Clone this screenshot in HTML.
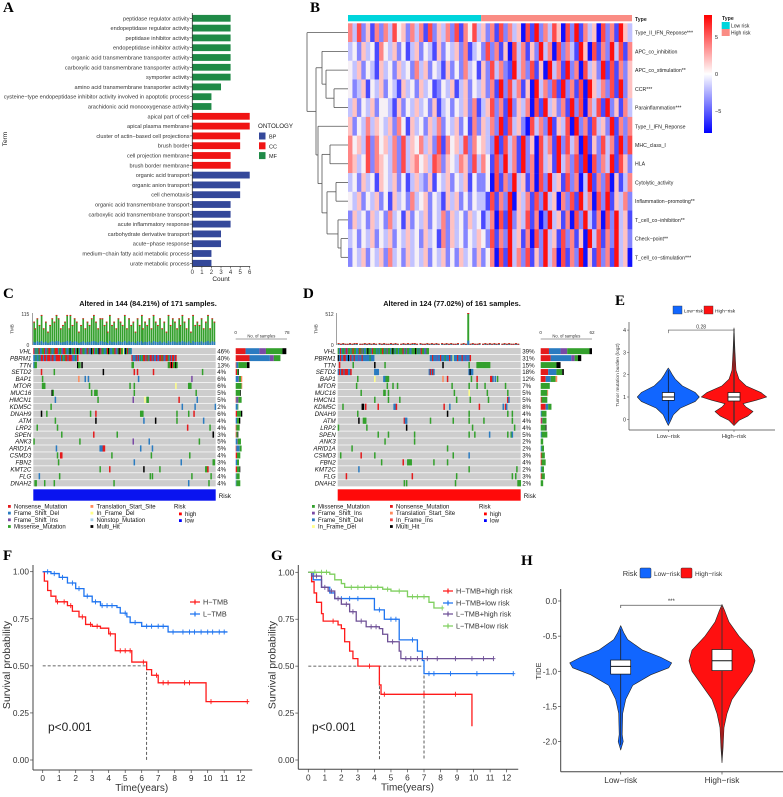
<!DOCTYPE html>
<html><head><meta charset="utf-8"><style>
html,body{margin:0;padding:0;background:#fff}
svg{display:block;font-family:"Liberation Sans",sans-serif}
.pl{font-family:"Liberation Serif",serif;font-weight:bold;font-size:15px}
</style></head><body>
<svg id="fig" width="783" height="797" viewBox="0 0 783 797" xmlns="http://www.w3.org/2000/svg">
<rect width="783" height="797" fill="#fff"/>
<defs><linearGradient id="cbar" x1="0" y1="0" x2="0" y2="1"><stop offset="0" stop-color="#ff0000"/><stop offset="0.5" stop-color="#ffffff"/><stop offset="1" stop-color="#0000ff"/></linearGradient></defs>
<text class="pl" x="3" y="12">A</text>
<text class="pl" x="310" y="12">B</text>
<text class="pl" x="3" y="298">C</text>
<text class="pl" x="303" y="298">D</text>
<text class="pl" x="615" y="305">E</text>
<text class="pl" x="3" y="560">F</text>
<text class="pl" x="271" y="560">G</text>
<text class="pl" x="521" y="565">H</text>
</svg>
<script>
// ===== Panel A data =====
const goTerms=["peptidase regulator activity","endopeptidase regulator activity","peptidase inhibitor activity","endopeptidase inhibitor activity","organic acid transmembrane transporter activity","carboxylic acid transmembrane transporter activity","symporter activity","amino acid transmembrane transporter activity","cysteine\u2212type endopeptidase inhibitor activity involved in apoptotic process","arachidonic acid monooxygenase activity","apical part of cell","apical plasma membrane","cluster of actin\u2212based cell projections","brush border","cell projection membrane","brush border membrane","organic acid transport","organic anion transport","cell chemotaxis","organic acid transmembrane transport","carboxylic acid transmembrane transport","acute inflammatory response","carbohydrate derivative transport","acute\u2212phase response","medium\u2212chain fatty acid metabolic process","urate metabolic process"];
const goCounts=[4,4,4,4,4,4,4,3,2,2,6,6,5,5,4,4,6,5,5,4,4,4,3,3,2,2];
const goOnt=["MF","MF","MF","MF","MF","MF","MF","MF","MF","MF","CC","CC","CC","CC","CC","CC","BP","BP","BP","BP","BP","BP","BP","BP","BP","BP"];
const goTicks=[0,1,2,3,4,5,6];
// ===== Panel B data =====
const hmRows=["Type_II_IFN_Reponse***","APC_co_inhibition","APC_co_stimulation**","CCR***","Parainflammation***","Type_I_IFN_Reponse","MHC_class_I","HLA","Cytolytic_activity","Inflammation\u2212promoting**","T_cell_co\u2212inhibition**","Check\u2212point**","T_cell_co\u2212stimulation***"];
const hmData=[
"6372516263745263617253627164735261726350718263750728163507261853",
"3425341643524135243152435261342726150736152836072631850716283716",
"4352431534253426352431524263415273621836271508361826073528171625",
"4235143524315342534124351352435261827361508362718261708536271825",
"3524352443152435342513424352613572618253607183526182706371825163",
"5243635435264153425362435241625362817352073628153708261735281626",
"6453726453627354635271645372645328173618250736182736081527361827",
"6534726543627356453762543652736417283618260735183627180726381752",
"3425341543524135325143524351422407162835160728351726038162705136",
"4352435241534263452431535242433171628053617283506271836072815362",
"2534253426341524352436253425341360718253716028351607283160728351",
"3424352435243534253416253424354271628351607283517261508371628352",
"2435243526342534352435242534252460718362715283607162805172618350"];
const hmLowCount=30;
const hmScaleTicks=[5,0,-5];
const dendro=[307,0,[316,[322,1,[326,2,[334,3,4]]],[318,5,[322,[330,6,7],[327,[336,8,9],[338,10,[341,11,12]]]]]]];
// ===== Panel C / D data =====
const genes=["VHL","PBRM1","TTN","SETD2","BAP1","MTOR","MUC16","HMCN1","KDM5C","DNAH9","ATM","LRP2","SPEN","ANK3","ARID1A","CSMD3","FBN2","KMT2C","FLG","DNAH2"];
const pctC=["46%","40%","13%","4%","6%","6%","5%","5%","2%","6%","4%","4%","3%","5%","5%","4%","3%","4%","4%","4%"];
const pctD=["39%","31%","15%","18%","12%","7%","5%","5%","8%","4%","4%","4%","5%","2%","2%","3%","4%","2%","3%","2%"];
const runsC={
VHL:[[0,"NDMDMNDDMMNDIMNNMDDMNNNDMMDINNMDDMHDMMNDMHMDNIMMDDNMIDHMNDMMDHNIMMDDMNHMDDMMNIDMHNMMFDHMNDMD"]],
PBRM1:[[0,"DDMDDMDNNDNNDNNNDNNDDNNNNDNMDMNNDNNNIDDMDN"],[92,"NDDDNDNDMDMNNDNMDNNDNDDNIDNNMNDDNNMDNDNNDN"]]};
const sparseC={
TTN:"0D 1M 2M 41H 42M 43M 45H 92M 93M 126M 127M 128N 129H 130N 131M 132M 133H 134M",
SETD2:"7N 19M 65H 94N 97N 112N 158M",
BAP1:"8M 42T 48D 51D 98D 148I",
MTOR:"8M 9M 10M 52M 90M 94M 133F 145M 146M 147M",
MUC16:"17H 18M 54M 57M 58M 59M 94M 152M",
HMCN1:"20D 60M 93I 104F 106M 107M 136N 153D",
KDM5C:"16M 139D 151D 170D",
DNAH9:"7H 12M 53M 58N 100M 101M 102M 134M 145M 150N",
ATM:"20M 58H 103D 114H 134M 159D",
LRP2:"3M 22M 144N 165M",
SPEN:"26M 56N 78M 168H",
ANK3:"0M 43M 93I 108D 155M",
ARID1A:"21D 62D 63D 64D 65N 66N 100D 111D",
CSMD3:"22M 25N 26N 73M 110M 146M",
FBN2:"23M 94D 138D 168M 169M",
KMT2C:"62M 71N 103H 118M 161M 162M 163N",
FLG:"5D 24M 109M 111M 148M 166M",
DNAH2:"1M 2M 10M 19M 75M 145D 164M"};
const runsD={
VHL:[[0,"MDNDMMDNIMMDMNMMDDMNMIMDDMHMMDNMMMDMDMMNMDMIMMDMHMDMMDMMMNDMIMMDDMMMHMDMDNMMDIMM"]],
PBRM1:[[0,"HDNDDNNDDHDNDDNDDDIDDNDDDDDDMDDD"],[81,"DDNDDDIDDNDDDMDDDNDDFDDDNDDDNDDIDDDN"]]};
const sparseD={
TTN:"1N 13M 32H 41M 92H 115M 122M 123M 124M 125M 126M 127M 128M 129M 130M 131M 132M 133M",
SETD2:"0D 1N 2D 3N 4N 5D 6N 7N 8N 9D 10D 11N 32D 33D 34D 35D 80D 81N 82D 83N 84D 115D 116H 117D 118D",
BAP1:"17M 32F 40D 41D 42M 43M 44M 92T 96N 117M 122N 134N 135N 136D 138D 140M",
MTOR:"16M 43M 48M 52M 100M 115M 122M 129M 147M",
MUC16:"20M 40M 41M 44M 102M 115F 131M 149M",
HMCN1:"32M 44M 54M 104M 116M 132M 149N 150D",
KDM5C:"4M 21H 22H 24N 35N 49D 50D 51N 93N 98D 124N 145D 147N 148D",
DNAH9:"17M 96H 115M 149M 153M",
ATM:"18H 22M 23M 24M 58N 59D 60D 81M 101M 115M 128M 153M",
LRP2:"0M 25M 60H 118M 155M",
SPEN:"35M 44M 67M 115M 120M 133D 149M 152M 153D",
ANK3:"41M 67M",
ARID1A:"12M 96M",
CSMD3:"2M 20N 32M 101M 115D",
FBN2:"38M 57N 61M 62M 63M 64M 84M 96M",
KMT2C:"18D 115M 157M",
FLG:"7N 65N 104M 153M 156M",
DNAH2:"58M 60M 103M 158M 159M 160M"};
// side counts per gene: [N, D, I, M, H, T]
const sideC=[[15,21,10,25,6,0],[21,31,6,10,0,0],[1,3,0,13,4,0],[2,0,0,2,1,0],[0,4,1,3,0,2],[0,0,0,9,0,1],[0,0,0,7,1,0],[1,1,2,5,0,0],[0,3,0,1,0,0],[2,0,0,6,2,0],[0,2,0,3,2,0],[1,0,0,5,0,0],[1,0,0,2,1,0],[0,2,1,5,0,0],[1,5,0,3,0,0],[2,0,0,5,0,0],[0,2,0,3,0,0],[2,0,0,4,1,0],[0,1,0,5,0,0],[0,1,0,6,0,0]];
const sideD=[[10,14,8,27,3,0],[12,25,4,4,4,0],[0,0,0,19,5,0],[9,10,0,7,2,0],[6,6,0,6,0,2],[0,0,0,11,0,0],[0,0,0,8,0,1],[1,0,0,7,0,0],[6,3,0,4,0,0],[0,1,0,6,0,0],[1,0,1,5,0,0],[0,0,0,6,1,0],[0,1,0,7,0,0],[0,0,0,3,0,0],[0,1,0,3,0,0],[1,0,0,4,0,0],[1,0,0,5,0,0],[0,1,0,3,0,0],[1,0,0,4,0,0],[0,0,0,3,0,0]];
const tmbC="7586957468798567959687468576897588674967587695867486957685976857496875869758496768579587";
const tmbD="3232232332232323232322323223232332322323232323232232323232232323232323232232";
const tmbDSpikeCol=115;
const tmbDSpikeVal=512;
// ===== Panel E data =====
const eLowV=[-0.28,-0.1,0.2,0.5,0.8,1.0,1.2,1.5,1.8,2.0,2.2,2.3];
const eLowW=[0,2,5,12,27,31,27,14,7,4,1.5,0];
const eHighV=[-0.28,-0.05,0.15,0.35,0.55,0.7,0.85,1.0,1.2,1.5,1.8,2.2,3.0,4.1];
const eHighW=[0,5,14,19,12,9,22,32.7,27,12,5,2,1,0];
const eBoxLow=[0.85,1.0,1.2];
const eBoxHigh=[0.82,1.0,1.2];
const eTicks=[0,1,2,3,4];
// ===== Panel F data =====
const fHT=[0.1,0.3,0.5,0.8,1.5,1.8,2.2,2.6,3.0,3.5,4.0,4.4,5.4,6.3,6.6,7.0,9.9];
const fHS=[0.95,0.90,0.87,0.84,0.82,0.79,0.76,0.72,0.71,0.70,0.67,0.58,0.52,0.48,0.45,0.41,0.31];
const fHEnd=12.4;
const fHCens=[0.9,1.3,1.7,2.4,2.9,3.3,4.1,4.7,5.0,5.3,6.1,6.9,7.3,7.6,8.6,8.9,10.2,12.4];
const fLT=[0.5,1.0,1.5,2.0,2.5,3.0,3.5,4.5,4.7,5.1,5.3,6.0,7.6];
const fLS=[0.99,0.97,0.94,0.91,0.87,0.84,0.82,0.81,0.78,0.76,0.73,0.71,0.68];
const fLEnd=11.2;
const fLCens=[0.3,0.7,1.2,1.8,2.2,2.7,3.2,3.6,3.9,4.2,5.0,5.6,6.3,6.6,7.0,7.3,7.9,8.5,8.9,9.2,9.6,10.0,10.3,10.7,11.0];
// ===== Panel G data =====
const gHhT=[0.2,0.35,0.5,0.8,0.9,1.8,2.0,2.2,2.5,2.7,3.0,4.3,4.4,9.9];
const gHhS=[0.95,0.89,0.84,0.78,0.74,0.72,0.70,0.63,0.58,0.54,0.50,0.40,0.35,0.18];
const gHhEnd=9.9;
const gHhCens=[1.5,3.7,4.6,7.0,8.9];
const gHlT=[0.3,0.8,1.3,1.6,4.0,4.6,5.5,6.6,6.9,7.0];
const gHlS=[0.96,0.92,0.89,0.86,0.80,0.75,0.64,0.58,0.53,0.46];
const gHlEnd=12.4;
const gHlCens=[2.0,2.5,3.0,4.3,5.0,5.3,6.3,7.3,7.6,8.6,10.2,12.4];
const gLhT=[0.2,0.8,1.2,1.6,2.0,2.5,2.9,3.5,4.3,4.5,4.8,5.5,5.6];
const gLhS=[0.98,0.92,0.90,0.86,0.83,0.79,0.74,0.71,0.70,0.67,0.63,0.58,0.54];
const gLhEnd=11.2;
const gLhCens=[0.5,1.0,1.4,1.8,2.3,2.7,3.2,3.8,4.1,5.1,5.9,6.2,6.6,7.2,7.8,8.9,9.9,10.6,11.2];
const gLlT=[1.3,1.6,2.0,2.2,4.5,5.0,6.0,7.3,7.6];
const gLlS=[0.99,0.96,0.94,0.92,0.91,0.90,0.87,0.84,0.81];
const gLlEnd=8.1;
const gLlCens=[0.4,0.8,1.1,2.6,3.0,3.4,3.8,4.2,4.8,5.5,6.3,6.6,7.0,8.1];
// ===== Panel H data =====
const hLowV=[-2.12,-2.0,-1.9,-1.6,-1.4,-1.2,-1.05,-0.95,-0.88,-0.8,-0.7,-0.55,-0.45,-0.35];
const hLowW=[0,2.5,1.5,2,5,12,30,48,51,40,22,7,3,0];
const hHighV=[-2.3,-2.1,-1.8,-1.6,-1.4,-1.2,-1.0,-0.85,-0.7,-0.5,-0.3,-0.15,-0.05];
const hHighW=[0,1,2,5,10,20,30,33,30,17,7,3,0];
const hBoxLow=[-1.04,-0.93,-0.84];
const hBoxHigh=[-0.99,-0.85,-0.69];
const hTicks=[0,-0.5,-1,-1.5,-2];
const hTickLabels=["0.0","-0.5","-1.0","-1.5","-2.0"];

const NS="http://www.w3.org/2000/svg";
const svg=document.getElementById("fig");
function mk(tag,attrs,parent){const e=document.createElementNS(NS,tag);for(const k in attrs)e.setAttribute(k,attrs[k]);(parent||svg).appendChild(e);return e;}
function tx(x,y,s,size,attrs){const e=mk("text",Object.assign({x:x,y:y,"font-size":size},attrs||{}));e.textContent=s;return e;}
function ln(x1,y1,x2,y2,st,w,extra){return mk("line",Object.assign({x1:x1,y1:y1,x2:x2,y2:y2,stroke:st||"#000","stroke-width":w||0.8},extra||{}));}

// ===== Panel A =====
(function(){
const ontColor={MF:"#1f8a47",CC:"#f01414",BP:"#34489a"};
const xA=v=>192.3+v*9.57, yA=i=>18.3+i*9.8;
goTerms.forEach((t,i)=>{
  const r=mk("rect",{x:xA(0),y:yA(i)-3.4,width:xA(goCounts[i])-xA(0),height:6.8,fill:ontColor[goOnt[i]]});
  
  
  const l=tx(189.5,yA(i)+2,t,5.6,{"text-anchor":"end",fill:"#333"});
  
  
  const tk=ln(190,yA(i),192.3,yA(i),"#333",0.6);
  
  
});
const ya=ln(192.3,13,192.3,266.5,"#333",0.8);


const xa=ln(192.3,266.5,xA(6)+0.5,266.5,"#333",0.8);


goTicks.forEach(v=>{
  const t=ln(xA(v),266.5,xA(v),268.5,"#333",0.6);
  
  
  const l=tx(xA(v),274,String(v),6,{"text-anchor":"middle",fill:"#333"});
  
  
});
const ct=tx(221,281,"Count",6.5,{"text-anchor":"middle",fill:"#222"});


const tm=tx(7,139,"Term",6.5,{"text-anchor":"middle",fill:"#222",transform:"rotate(-90 7 139)"});


const lt=tx(258,128,"ONTOLOGY",6.2,{fill:"#222"});


["BP","CC","MF"].forEach((o,i)=>{
  const s=mk("rect",{x:259,y:132.5+i*9.8,width:6.5,height:7,fill:ontColor[o]});
  
  
  const l=tx(269,138.5+i*9.8,o,5.5,{fill:"#222"});
  
  
});
})();

// ===== Panel B =====
(function(){
const pal=["#1010ff","#4a4aff","#8585ff","#c2c2ff","#f6f0f6","#ffc2c2","#ff8585","#ff4a4a","#ff1010"];
const x0=348,x1=632,y0=23.3,rh=(266.7-23.3)/hmRows.length;
const nc=hmData[0].length, cw=(x1-x0)/nc;
const a1=mk("rect",{x:x0,y:15,width:hmLowCount*cw,height:6.3,fill:"#00d5dc"});


const a2=mk("rect",{x:x0+hmLowCount*cw,y:15,width:(nc-hmLowCount)*cw,height:6.3,fill:"#fa8c84"});


const tl=tx(635,21,"Type",5.2,{"font-weight":"bold",fill:"#222"});


hmData.forEach((row,r)=>{
  for(let c=0;c<row.length;c++){
    const cell=mk("rect",{x:x0+c*cw,y:y0+r*rh,width:cw+0.3,height:rh+0.2,fill:pal[+row[c]]});
    
    
  }
  const l=tx(635,y0+r*rh+rh/2+2,hmRows[r],5.2,{fill:"#222"});
  
  
});
const g=mk("g",{stroke:"#555","stroke-width":0.8,fill:"none"});


function dd(n){
  if(typeof n==="number") return {x:x0,y:y0+n*rh+rh/2};
  const a=dd(n[1]),b=dd(n[2]),x=n[0];
  mk("line",{x1:x,y1:a.y,x2:a.x,y2:a.y},g);
  mk("line",{x1:x,y1:b.y,x2:b.x,y2:b.y},g);
  mk("line",{x1:x,y1:a.y,x2:x,y2:b.y},g);
  return {x:x,y:(a.y+b.y)/2};
}
dd(dendro);
const cb=mk("rect",{x:704,y:15,width:8,height:118,fill:"url(#cbar)"});


hmScaleTicks.forEach(v=>{
  const y=74-v*7.4;
  const l=tx(715,y+2,v<0?"\u22125":String(v),5.5,{fill:"#222"});
  
  
});
const tt=tx(722,20,"Type",5.2,{"font-weight":"bold",fill:"#222"});


[["Low risk","#00d5dc"],["High risk","#fa8c84"]].forEach((d,i)=>{
  const s=mk("rect",{x:721.7,y:22+i*7,width:8,height:7,fill:d[1]});
  
  
  const l=tx(731,27.5+i*7,d[0],5,{fill:"#222"});
  
  
});
})();

// ===== Panels C & D (oncoplots) =====
const mutColor={N:"#e41a1c",D:"#2a7bc0",I:"#7a4aa5",M:"#33a02c",T:"#ff8a5c",F:"#ffff88",S:"#a6cee3",H:"#000000",R:"#f04848"};
function onco(cfg){
  const rowTop=347.7, rh=6.95, nC=cfg.nCols, cw=(cfg.x1-cfg.x0)/nC;
  const colX=c=>cfg.x0+c*cw;
  const title=tx(cfg.titleX,306,cfg.title,7.4,{"text-anchor":"middle","font-weight":"bold",fill:"#111"});
  
  
  const yb=345, tmbH=32;
  const ax=ln(cfg.x0-1,313,cfg.x0-1,yb,"#444",0.5);
  
  
  const lt=tx(cfg.x0-4,316,String(cfg.tmbMax),5,{"text-anchor":"end",fill:"#333"});
  
  
  const l0=tx(cfg.x0-4,347,"0",5,{"text-anchor":"end",fill:"#333"});
  
  
  const tl=tx(cfg.x0-20,329,"TMB",4.5,{"text-anchor":"middle",fill:"#333",transform:"rotate(-90 "+(cfg.x0-20)+" 329)"});
  
  
  const span=nC/cfg.tmb.length;
  for(let i=0;i<cfg.tmb.length;i++){
    let v=(+cfg.tmb[i])*cfg.tmbUnit;
    const c0=Math.floor(i*span);
    if(cfg.spikeCol!==undefined && cfg.spikeCol>=c0 && cfg.spikeCol<Math.floor((i+1)*span)) v=cfg.spikeVal;
    const h=v/cfg.tmbMax*tmbH, x=colX(c0), w=span*cw*0.8;
    const b=mk("rect",{x:x,y:yb-h,width:w,height:h,fill:"#33a02c"});
    
    
    const bb=mk("rect",{x:x,y:yb-Math.min(h,h*0.12+0.5),width:w,height:Math.min(h,h*0.12+0.5),fill:"#2a7bc0"});
    
    
    const bt=mk("rect",{x:x,y:yb-h,width:w,height:Math.min(1,h),fill:"#e41a1c"});
    
    
  }
  genes.forEach((gname,r)=>{
    const y=rowTop+r*rh;
    const bg=mk("rect",{x:cfg.x0,y:y+0.35,width:cfg.x1-cfg.x0,height:rh-0.7,fill:"#cdcdcd"});
    
    
    const gl=tx(cfg.x0-2,y+rh-1.3,gname,6.2,{"text-anchor":"end","font-style":"italic",fill:"#111"});
    
    
    const pl=tx(cfg.x1+1.5,y+rh-1.3,cfg.pct[r],6.2,{fill:"#111"});
    
    
    const cells=[];
    (cfg.runs[gname]||[]).forEach(run=>{for(let k=0;k<run[1].length;k++)cells.push([run[0]+k,run[1][k]]);});
    if(cfg.sparse[gname]) cfg.sparse[gname].split(" ").forEach(tok=>cells.push([parseInt(tok),tok.slice(-1)]));
    cells.forEach(cl=>{
      const m=mk("rect",{x:colX(cl[0]),y:y+0.35,width:Math.max(cw,1.5),height:rh-0.7,fill:mutColor[cl[1]]});
      
      
    });
    const sc=(cfg.sx1-cfg.sx0)/cfg.sMax;
    let sx=cfg.sx0;
    const order=["N","D","I","M","H","T"];
    cfg.side[r].forEach((n,k)=>{
      if(!n) return;
      const sb=mk("rect",{x:sx,y:y+0.5,width:n*sc,height:rh-1,fill:mutColor[order[k]]});
      
      
      sx+=n*sc;
    });
  });
  const sa=ln(cfg.sx0,339,cfg.sx1,339,"#444",0.5);
  
  
  const s0=tx(cfg.sx0,334,"0",4.6,{"text-anchor":"middle",fill:"#333"});
  
  
  const s1=tx(cfg.sx1,334,String(cfg.sMax),4.6,{"text-anchor":"middle",fill:"#333"});
  
  
  const st=tx((cfg.sx0+cfg.sx1)/2,337.5,"No. of samples",4.2,{"text-anchor":"middle",fill:"#333"});
  
  
  const rb=mk("rect",{x:cfg.x0,y:489.3,width:cfg.x1-cfg.x0,height:11.4,fill:cfg.riskColor});
  
  
  const rl=tx(cfg.x1+3,498,"Risk",6.3,{fill:"#111"});
  
  
  cfg.legend.forEach((col,ci)=>{col.forEach((it,k)=>{
    const y=508.5+k*6.7;
    const s=mk("rect",{x:cfg.legX[ci],y:y-3.5,width:2.8,height:2.8,fill:mutColor[it[1]]});
    
    
    const l=tx(cfg.legX[ci]+6,y,it[0],6,{fill:"#111"});
    
    
  });});
  const rt=tx(cfg.riskX,508.5,"Risk",6,{fill:"#111"});
  
  
  [["high","#ff0000"],["low","#0000ff"]].forEach((d,k)=>{
    const s=mk("rect",{x:cfg.riskX+5,y:512.5+k*6.7,width:2.8,height:2.8,fill:d[1]});
    
    
    const l=tx(cfg.riskX+11,516+k*6.7,d[0],6,{fill:"#111"});
    
    
  });
}
onco({x0:33.3,x1:215.7,nCols:171,pct:pctC,runs:runsC,sparse:sparseC,side:sideC,sx0:235.7,sx1:287,sMax:78,
  tmb:tmbC,tmbUnit:12,tmbMax:115,title:"Altered in 144 (84.21%) of 171 samples.",titleX:148,riskColor:"#0a14f0",
  legX:[8,90.5],riskX:174,
  legend:[[["Nonsense_Mutation","N"],["Frame_Shift_Del","D"],["Frame_Shift_Ins","I"],["Missense_Mutation","M"]],[["Translation_Start_Site","T"],["In_Frame_Del","F"],["Nonstop_Mutation","S"],["Multi_Hit","H"]]]});
onco({x0:337.7,x1:520.7,nCols:161,pct:pctD,runs:runsD,sparse:sparseD,side:sideD,sx0:540.7,sx1:592,sMax:62,
  tmb:tmbD,tmbUnit:10,tmbMax:512,spikeCol:tmbDSpikeCol,spikeVal:tmbDSpikeVal,title:"Altered in 124 (77.02%) of 161 samples.",titleX:452,riskColor:"#ff0a0a",
  legX:[312,390],riskX:479,
  legend:[[["Missense_Mutation","M"],["Frame_Shift_Ins","I"],["Frame_Shift_Del","D"],["In_Frame_Del","F"]],[["Nonsense_Mutation","N"],["Translation_Start_Site","T"],["In_Frame_Ins","R"],["Multi_Hit","H"]]]});

function violin(cx,vals,ws,yf,fill,name){
  let d="M"+cx+","+yf(vals[0]);
  for(let i=1;i<vals.length;i++) d+=" L"+(cx+ws[i])+","+yf(vals[i]);
  for(let i=vals.length-1;i>=0;i--) d+=" L"+(cx-ws[i])+","+yf(vals[i]);
  const p=mk("path",{d:d+"Z",fill:fill,stroke:"#222","stroke-width":0.6,"stroke-linejoin":"round"});
  
  
}
function boxp(cx,q,hw,yf,name){
  const r=mk("rect",{x:cx-hw,y:yf(q[2]),width:2*hw,height:yf(q[0])-yf(q[2]),fill:"#fff",stroke:"#111","stroke-width":0.7});
  
  
  const m=ln(cx-hw,yf(q[1]),cx+hw,yf(q[1]),"#111",1);
  
  
}

// ===== Panel E =====
(function(){
const yE=v=>419.3-v*22.3, cL=668.3, cH=734;
[["Low\u2212risk","#1166ff",673],["High\u2212risk","#ff1010",704]].forEach((d,i)=>{
  const s=mk("rect",{x:d[2],y:306,width:9,height:8,fill:d[1],stroke:"#333","stroke-width":0.4});
  
  
  const l=tx(d[2]+11,312.5,d[0],4.8,{fill:"#222"});
  
  
});
const ya=ln(629,322,629,430,"#444",0.7);


const xa=ln(629,430,775,430,"#444",0.7);


eTicks.forEach(v=>{
  const t=ln(627,yE(v),629,yE(v),"#444",0.5);
  
  
  const l=tx(626,yE(v)+2,String(v),5.5,{"text-anchor":"end",fill:"#333"});
  
  
});
const yt=tx(619,375,"Tumor mutation burden (log2)",4.8,{"text-anchor":"middle",fill:"#333",transform:"rotate(-90 619 375)"});


violin(cL,eLowV,eLowW,yE,"#1166ff","e-violin-low-risk");
violin(cH,eHighV,eHighW,yE,"#ff1010","e-violin-high-risk");
const w1=ln(cL,yE(-0.1),cL,yE(2.2),"#111",0.7);


const w2=ln(cH,yE(-0.2),cH,yE(4.05),"#333",1.2);


boxp(cL,eBoxLow,6,yE,"e-box-low-risk");
boxp(cH,eBoxHigh,6,yE,"e-box-high-risk");
const br=mk("path",{d:"M"+cL+","+(yE(4)+3)+" V"+yE(4)+" H"+cH+" V"+(yE(4)+3),fill:"none",stroke:"#555","stroke-width":0.6});


const pv=tx((cL+cH)/2,yE(4)-1.5,"0.28",5,{"text-anchor":"middle",fill:"#333"});


[["Low\u2212risk",cL],["High\u2212risk",cH]].forEach(d=>{
  const t=ln(d[1],430,d[1],432,"#444",0.5);
  
  
  const l=tx(d[1],438,d[0],5.8,{"text-anchor":"middle",fill:"#333"});
  
  
});
})();

function km(o){
  const xs=o.xs, ys=o.ys;
  const ya=ln(o.ax,565,o.ax,o.axB,"#444",1);
  
  
  const xa=ln(o.ax,o.axB,xs(12.7),o.axB,"#444",1);
  
  
  [0,0.25,0.5,0.75,1].forEach(v=>{
    const t=ln(o.ax-3,ys(v),o.ax,ys(v),"#444",0.7);
    
    
    const l=tx(o.ax-4,ys(v)+3,v.toFixed(2),8.3,{"text-anchor":"end",fill:"#333"});
    
    
  });
  for(let t=0;t<=12;t++){
    const k=ln(xs(t),o.axB,xs(t),o.axB+3,"#444",0.7);
    
    
    const l=tx(xs(t),o.axB+11,String(t),8.3,{"text-anchor":"middle",fill:"#333"});
    
    
  }
  const xt=tx(xs(6),o.axB+21,"Time(years)",10,{"text-anchor":"middle",fill:"#333"});
  
  
  const yx=o.ax-23;
  const yt=tx(yx,665,"Survival probability",10.5,{"text-anchor":"middle",fill:"#333",transform:"rotate(-90 "+yx+" 665)"});
  
  
  const dd=mk("path",{d:o.dash,fill:"none",stroke:"#333","stroke-width":0.8,"stroke-dasharray":"3,2"});
  
  
  o.curves.forEach((c,i)=>{
    let d="M"+xs(0)+","+ys(1);
    for(let k=0;k<c.t.length;k++) d+=" H"+xs(c.t[k])+" V"+ys(c.s[k]);
    d+=" H"+xs(c.end);
    const p=mk("path",{d:d,fill:"none",stroke:c.col,"stroke-width":1.3});
    
    
    c.cens.forEach(ct=>{
      let s=1;for(let k=0;k<c.t.length;k++) if(c.t[k]<=ct) s=c.s[k];
      const m=mk("path",{d:"M"+(xs(ct)-2)+","+ys(s)+" h4 M"+xs(ct)+","+(ys(s)-2.5)+" v5",stroke:c.col,"stroke-width":0.9});
      
      
    });
    const ly=o.legY[i];
    const lm=mk("path",{d:"M"+o.legX+","+ly+" h10 M"+(o.legX+5)+","+(ly-2.5)+" v5",stroke:c.col,"stroke-width":1.2});
    
    
    const ll=tx(o.legX+13,ly+2.5,c.label,7.3,{fill:"#333"});
    
    
  });
  const pv=tx(o.pX,731,"p<0.001",12,{fill:"#222"});
  
  
}
(function(){
const xs=t=>42.7+t*16.5, ys=s=>760-s*188.3;
km({id:"f",xs:xs,ys:ys,ax:33,axB:770,legX:190,legY:[602,614],pX:48,
  dash:"M"+xs(0)+","+ys(0.5)+" H"+xs(6.3)+" V"+ys(0),
  curves:[{name:"h-tmb",label:"H\u2212TMB",col:"#ff1a1a",t:fHT,s:fHS,end:fHEnd,cens:fHCens},
          {name:"l-tmb",label:"L\u2212TMB",col:"#1e74f0",t:fLT,s:fLS,end:fLEnd,cens:fLCens}]});
})();
(function(){
const xs=t=>308.3+t*16.53, ys=s=>760-s*187.7;
km({id:"g",xs:xs,ys:ys,ax:298.3,axB:769.3,legX:443,legY:[591,603,614,626],pX:312,
  dash:"M"+xs(0)+","+ys(0.5)+" H"+xs(7)+" V"+ys(0)+" M"+xs(4.3)+","+ys(0.5)+" V"+ys(0),
  curves:[{name:"htmb-high",label:"H\u2212TMB+high risk",col:"#ff1a1a",t:gHhT,s:gHhS,end:gHhEnd,cens:gHhCens},
          {name:"htmb-low",label:"H\u2212TMB+low risk",col:"#1e74f0",t:gHlT,s:gHlS,end:gHlEnd,cens:gHlCens},
          {name:"ltmb-high",label:"L\u2212TMB+high risk",col:"#6e5096",t:gLhT,s:gLhS,end:gLhEnd,cens:gLhCens},
          {name:"ltmb-low",label:"L\u2212TMB+low risk",col:"#7fcf5f",t:gLlT,s:gLlS,end:gLlEnd,cens:gLlCens}]});
})();

// ===== Panel H =====
(function(){
const yH=v=>601-v*70.3, cL=620.7, cH=722;
const rt=tx(622.7,576,"Risk",7.5,{fill:"#333"});


[["Low\u2212risk","#1166ff",640],["High\u2212risk","#ff1010",681]].forEach(d=>{
  const s=mk("rect",{x:d[2],y:568,width:11,height:10,rx:1,fill:d[1],stroke:"#333","stroke-width":0.5});
  
  
  const l=tx(d[2]+14,576,d[0],6.5,{fill:"#333"});
  
  
});
const ya=ln(560.7,589,560.7,771.7,"#444",1);


const xa=ln(560.7,771.7,783,771.7,"#444",1);


hTicks.forEach((v,i)=>{
  const t=ln(558,yH(v),560.7,yH(v),"#444",0.7);
  
  
  const l=tx(557,yH(v)+3,hTickLabels[i],8.3,{"text-anchor":"end",fill:"#333"});
  
  
});
const yt=tx(541,671,"TIDE",7.5,{"text-anchor":"middle",fill:"#333",transform:"rotate(-90 541 671)"});


violin(cL,hLowV,hLowW,yH,"#1166ff","h-violin-low-risk");
violin(cH,hHighV,hHighW,yH,"#ff1010","h-violin-high-risk");
const w1=ln(cL,yH(-2.05),cL,yH(-0.4),"#222",0.8);


const w2=ln(cH,yH(-2.25),cH,yH(-0.1),"#333",0.9);


boxp(cL,hBoxLow,10,yH,"h-box-low-risk");
boxp(cH,hBoxHigh,10,yH,"h-box-high-risk");
const br=mk("path",{d:"M"+cL+","+(yH(-0.1))+" V"+(yH(-0.06))+" H"+cH+" V"+yH(-0.1),fill:"none",stroke:"#555","stroke-width":0.8});


const st=tx((cL+cH)/2,603,"***",6,{"text-anchor":"middle",fill:"#333"});


[["Low\u2212risk",cL],["High\u2212risk",cH]].forEach(d=>{
  const t=ln(d[1],771.7,d[1],774.5,"#444",0.7);
  
  
  const l=tx(d[1],783,d[0],8.3,{"text-anchor":"middle",fill:"#333"});
  
  
});
})();
</script>
</body></html>
